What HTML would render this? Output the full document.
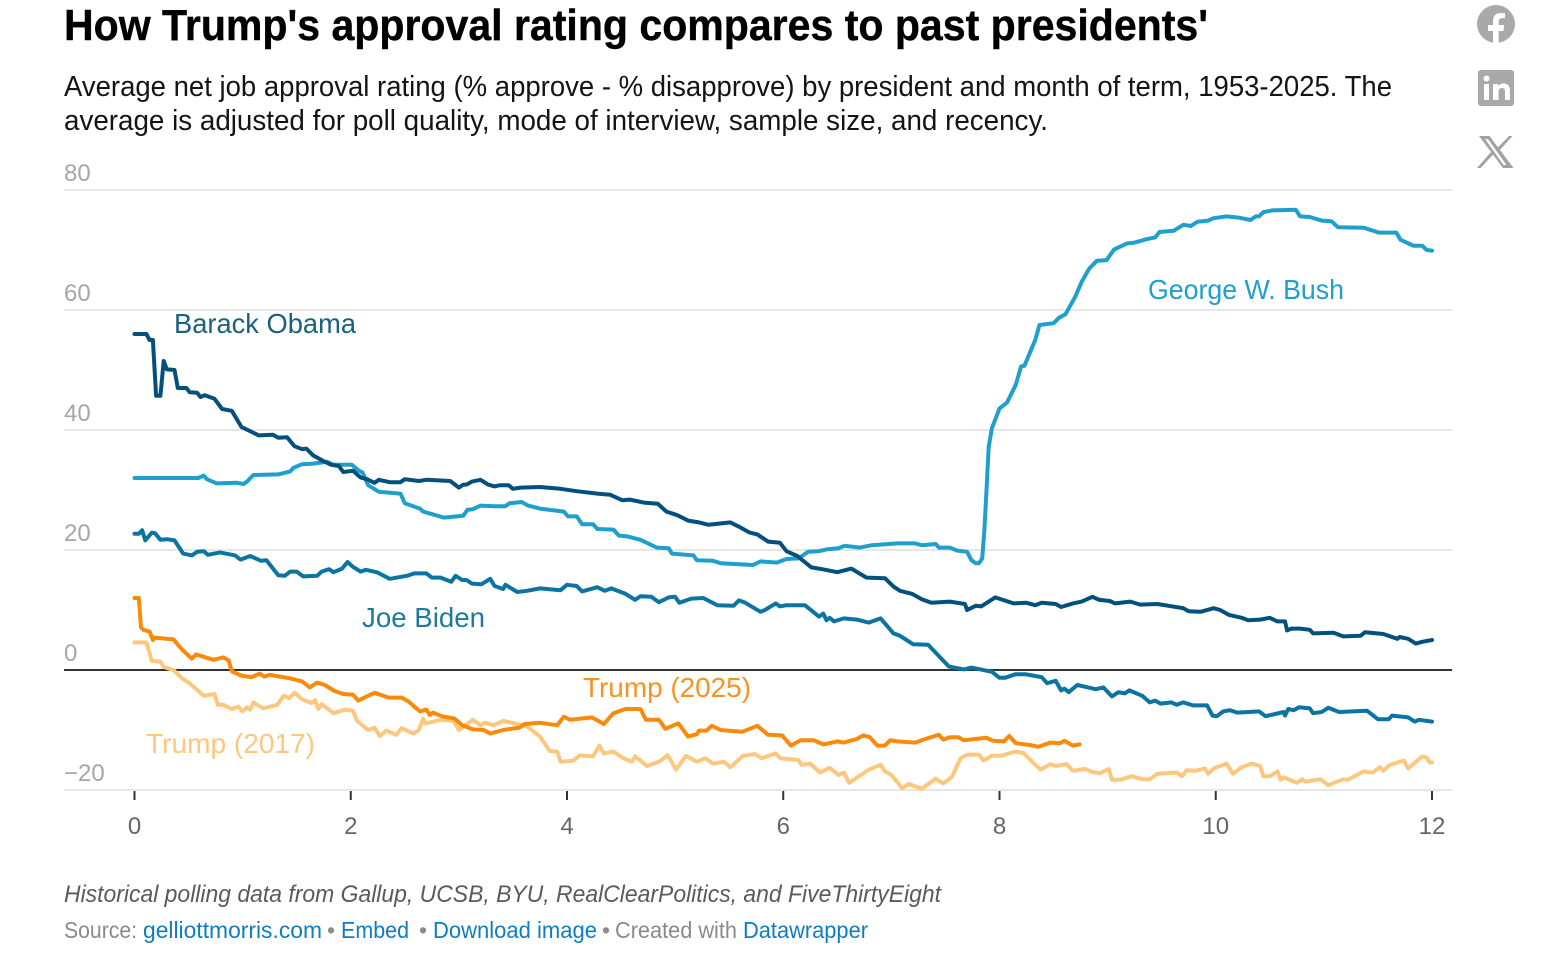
<!DOCTYPE html>
<html lang="en">
<head>
<meta charset="utf-8">
<title>How Trump's approval rating compares to past presidents'</title>
<style>
html,body{margin:0;padding:0;background:#fff;}
body{width:1560px;height:971px;overflow:hidden;}
svg{display:block;font-family:"Liberation Sans",Arial,sans-serif;}
a{cursor:pointer;}
</style>
</head>
<body>
<svg id="chart" xmlns="http://www.w3.org/2000/svg" width="1560" height="971" viewBox="0 0 1560 971">
  <text x="64" y="40" font-size="44" font-weight="700" fill="#000" stroke="#000" stroke-width="0.4" textLength="1144" lengthAdjust="spacingAndGlyphs">How Trump's approval rating compares to past presidents'</text>
  <text x="64" y="96" font-size="29" fill="#141414" textLength="1328" lengthAdjust="spacingAndGlyphs">Average net job approval rating (% approve - % disapprove) by president and month of term, 1953-2025. The</text>
  <text x="64" y="130" font-size="29" fill="#141414" textLength="984" lengthAdjust="spacingAndGlyphs">average is adjusted for poll quality, mode of interview, sample size, and recency.</text>

  <g id="grid"></g>
  <g id="xaxis"></g>
  <g id="lines" fill="none" stroke-width="4" stroke-linejoin="round" stroke-linecap="round"></g>

  <text x="174" y="333" font-size="28" fill="#19617f" textLength="182" lengthAdjust="spacingAndGlyphs">Barack Obama</text>
  <text x="1148" y="299" font-size="28" fill="#1f9fcb" textLength="196" lengthAdjust="spacingAndGlyphs">George W. Bush</text>
  <text x="362" y="627" font-size="28" fill="#1f7a9e" textLength="123" lengthAdjust="spacingAndGlyphs">Joe Biden</text>
  <text x="583" y="697" font-size="28" fill="#f79225" textLength="168" lengthAdjust="spacingAndGlyphs">Trump (2025)</text>
  <text x="146" y="753" font-size="28" fill="#fdc77d" textLength="169" lengthAdjust="spacingAndGlyphs">Trump (2017)</text>

  <text x="64" y="902" font-size="24" font-style="italic" fill="#5a5a5a" textLength="877" lengthAdjust="spacingAndGlyphs">Historical polling data from Gallup, UCSB, BYU, RealClearPolitics, and FiveThirtyEight</text>
  <g font-size="23" fill="#8a8a8a">
    <text x="64" y="938" textLength="73" lengthAdjust="spacingAndGlyphs">Source:</text>
    <text x="143" y="938" fill="#0f7dc2" textLength="179" lengthAdjust="spacingAndGlyphs">gelliottmorris.com</text>
    <text x="327" y="938">•</text>
    <text x="341" y="938" fill="#0f7dc2" textLength="68" lengthAdjust="spacingAndGlyphs">Embed</text>
    <text x="419" y="938">•</text>
    <text x="433" y="938" fill="#0f7dc2" textLength="164" lengthAdjust="spacingAndGlyphs">Download image</text>
    <text x="602" y="938">•</text>
    <text x="615" y="938" textLength="122" lengthAdjust="spacingAndGlyphs">Created with</text>
    <text x="743" y="938" fill="#0f7dc2" textLength="125" lengthAdjust="spacingAndGlyphs">Datawrapper</text>
  </g>

  <g>
    <circle cx="1496" cy="24" r="19" fill="#a9a9a9"/>
    <path d="M1493 43V31h-5v-6h5v-4c0-5 3-8 8-8 2 0 4 .3 4 .3v5h-3c-2.500 0-3.300 1.500-3.300 3.200V25h5.600l-.9 6h-4.700v12z" fill="#fff"/>
  </g>
  <g>
    <rect x="1478" y="70" width="36" height="36" rx="3" fill="#a9a9a9"/>
    <rect x="1484" y="84" width="5" height="16" fill="#fff"/>
    <circle cx="1486.500" cy="78.500" r="3" fill="#fff"/>
    <path d="M1493 84h5v2.300c1-1.700 3-2.800 5.500-2.800 4.500 0 6.500 2.700 6.500 7.500v9h-5v-8c0-2.500-.8-4-3-4-2.300 0-3.500 1.600-3.500 4v8h-5.500z" fill="#fff"/>
  </g>
  <g>
    <path d="M1479 136h10.500l24 32h-10.500zM1485 139l18.500 26h3l-18.500-26z" fill="#a2a2a2" fill-rule="evenodd"/>
    <path d="M1509 136h3.500l-14 15.500-2-2.600zM1480.500 168h-3.500l14.500-16.500 2 2.600z" fill="#a2a2a2"/>
  </g>
</svg>
<script>
const yTicks = [80, 60, 40, 20, 0, -20];
const xTicks = [0, 2, 4, 6, 8, 10, 12];

const bushMonths = [0,0.59,0.64,0.67,0.76,0.95,1.01,1.04,1.10,1.33,1.44,1.47,1.55,1.65,1.78,1.84,2.01,2.07,2.11,2.16,2.26,2.46,2.50,2.64,2.67,2.86,3.04,3.08,3.13,3.20,3.32,3.43,3.47,3.58,3.64,3.75,3.97,4.01,4.09,4.14,4.24,4.28,4.43,4.48,4.55,4.68,4.83,4.94,4.97,5.17,5.20,5.35,5.42,5.72,5.79,5.94,6.03,6.14,6.23,6.33,6.40,6.51,6.57,6.71,6.82,7.05,7.22,7.28,7.41,7.44,7.54,7.61,7.70,7.74,7.78,7.81,7.84,7.86,7.88,7.90,7.93,8.00,8.07,8.15,8.20,8.23,8.33,8.37,8.50,8.55,8.61,8.70,8.76,8.83,8.90,8.99,9.06,9.18,9.24,9.36,9.44,9.48,9.61,9.70,9.77,9.83,9.93,9.98,10.10,10.21,10.32,10.37,10.40,10.44,10.52,10.74,10.78,10.87,10.98,11.07,11.13,11.37,11.51,11.67,11.71,11.83,11.91,11.95,12];
const bushValues = [32,32,32.4,31.8,31.1,31.2,31,31.4,32.5,32.6,33.1,33.7,34.3,34.4,34.7,34.2,34.2,33.3,32.9,30.8,29.7,29.4,27.8,26.9,26.4,25.4,25.7,26.7,26.8,27.4,27.3,27.3,27.8,28,27.4,26.9,26.4,25.6,25.6,24.3,24.3,23.5,23.4,22.4,22.3,21.7,20.4,20.3,19.4,19.1,18.3,18.2,17.8,17.5,18.1,17.9,18.5,18.6,19.7,19.8,20.1,20.3,20.7,20.4,20.8,21.1,21.1,20.8,21,20.4,20.4,19.9,19.7,18.3,17.8,17.8,18.6,23.3,30,37.2,40.3,43.6,44.6,47.5,50.6,50.7,55,57.5,57.8,58.7,59.3,62.2,64.7,66.9,68.2,68.3,70.1,71.1,71.2,71.8,72.1,73,73.2,74.2,74,74.7,74.9,75.3,75.6,75.4,75,75.6,75.6,76.3,76.6,76.7,75.6,75.5,74.9,74.8,73.8,73.7,72.9,72.9,71.7,70.7,70.7,70,69.9];

const bidenMonths = [0,0.04,0.07,0.10,0.16,0.19,0.24,0.30,0.37,0.45,0.53,0.58,0.64,0.68,0.79,0.93,0.98,1.07,1.17,1.22,1.33,1.39,1.44,1.50,1.56,1.69,1.73,1.80,1.84,1.92,1.97,2.02,2.09,2.14,2.24,2.36,2.52,2.59,2.70,2.75,2.83,2.93,2.97,3.03,3.07,3.12,3.21,3.29,3.33,3.41,3.43,3.54,3.63,3.75,3.94,4.00,4.09,4.14,4.28,4.35,4.41,4.54,4.63,4.68,4.78,4.85,4.94,5.00,5.04,5.15,5.26,5.39,5.54,5.59,5.65,5.79,5.83,5.93,5.97,6.03,6.20,6.33,6.37,6.40,6.43,6.47,6.56,6.68,6.79,6.90,7.02,7.08,7.20,7.34,7.53,7.67,7.74,7.93,8.00,8.05,8.15,8.24,8.33,8.39,8.44,8.52,8.57,8.60,8.64,8.72,8.82,8.89,8.96,9.04,9.10,9.16,9.20,9.32,9.39,9.44,9.49,9.59,9.64,9.70,9.79,9.92,9.97,10.01,10.07,10.13,10.20,10.40,10.46,10.63,10.64,10.67,10.72,10.77,10.87,10.90,10.98,11.04,11.14,11.40,11.50,11.60,11.63,11.78,11.84,11.88,12];
const bidenValues = [22.7,22.7,23.3,21.6,22.9,22.8,21.7,21.8,21.6,19.4,19.1,19.7,19.8,19.2,19.6,19.1,18.4,19,18.2,18.3,15.8,15.7,16.4,16.4,15.6,15.7,16.4,16.8,16.3,16.9,18,17.2,16.4,16.7,16.3,15.2,15.7,16.1,16.1,15.4,15.4,14.7,15.7,15,15,14.4,14.3,15.2,14,13.5,14.2,13,13.2,13.6,13.3,14.2,14,13.1,13.8,13.2,13.6,12.7,11.7,12.3,12.2,11.3,12.1,12.2,11.2,11.9,12,10.8,10.7,11.6,11.2,9.7,10,11.1,10.6,10.8,10.8,8.9,9.4,8.3,8.7,8.1,8.6,8.4,7.9,8.6,6.1,5.7,4.3,4.2,0.6,0.1,0.4,-0.3,-1.3,-1.3,-0.7,-0.7,-1,-1.2,-2.2,-1.8,-3.4,-3.1,-3.7,-2.5,-2.9,-3.2,-2.9,-4.4,-3.7,-3.9,-3.4,-4.3,-5.4,-5.1,-5.6,-5.4,-5.8,-5.4,-5.9,-5.9,-7.6,-7.7,-6.9,-6.7,-7.1,-6.9,-7.7,-7,-7.6,-6.5,-6.7,-6.2,-6.4,-7.2,-7,-6.3,-7,-6.8,-8.2,-8.2,-7.6,-7.9,-8.6,-8.3,-8.6];

const obamaMonths = [0,0.11,0.14,0.17,0.20,0.24,0.27,0.30,0.37,0.40,0.48,0.51,0.58,0.61,0.65,0.74,0.81,0.90,0.95,0.99,1.07,1.15,1.28,1.33,1.41,1.48,1.55,1.59,1.65,1.75,1.82,1.89,1.93,2.02,2.09,2.15,2.22,2.26,2.36,2.46,2.50,2.63,2.70,2.92,3.00,3.04,3.07,3.12,3.20,3.27,3.33,3.38,3.46,3.50,3.57,3.75,3.94,4.09,4.28,4.40,4.51,4.58,4.71,4.84,4.92,5.02,5.12,5.22,5.31,5.51,5.60,5.69,5.76,5.86,5.97,6.03,6.13,6.26,6.36,6.50,6.63,6.77,6.94,7.02,7.08,7.19,7.28,7.37,7.54,7.68,7.70,7.78,7.83,7.96,8.13,8.25,8.33,8.39,8.52,8.57,8.68,8.76,8.86,8.92,9.02,9.07,9.21,9.30,9.46,9.70,9.75,9.86,9.98,10.04,10.12,10.24,10.30,10.41,10.50,10.57,10.64,10.66,10.70,10.78,10.87,10.90,11.09,11.18,11.34,11.38,11.55,11.68,11.70,11.78,11.85,11.91,12];
const obamaValues = [56,56,55,55,45.7,45.7,51.5,50.1,50,47,47,46.3,46.2,45.5,45.8,45.2,43.5,43.2,41.7,40.5,39.8,39.1,39.2,38.7,38.8,37.3,36.8,36.9,35.8,34.8,34.2,34,33,33.2,32.1,31.8,31.2,31.7,31.3,31.3,31.8,31.5,31.7,31.5,30.4,30.9,30.9,31.4,31.7,30.9,30.6,30.8,30.8,30.2,30.4,30.5,30.2,29.8,29.4,29.2,28.3,28.4,27.9,27.7,26.4,25.8,24.9,24.6,24.2,24.6,23.8,22.9,22.6,21.4,21.2,19.8,19,17.1,16.8,16.3,16.9,15.4,15.3,13.9,13.2,12.7,11.8,11.2,11.4,11,10,10.7,10.6,12.1,11.1,11.2,10.8,11.2,11,10.5,11.1,11.4,12.2,11.7,11.5,11.1,11.4,10.9,11,10.3,9.8,9.7,10.3,10,9.2,8.7,8.3,8.4,8.7,8.1,8.1,6.6,6.9,6.9,6.7,6.1,6.2,5.6,5.7,6.3,6,5.2,5.5,5.2,4.4,4.7,5];

const trump2017Months = [0,0.11,0.16,0.24,0.27,0.36,0.44,0.51,0.64,0.74,0.77,0.82,0.90,0.96,1.00,1.04,1.07,1.10,1.19,1.32,1.38,1.43,1.48,1.55,1.64,1.67,1.70,1.73,1.84,1.95,2.02,2.06,2.16,2.22,2.27,2.33,2.42,2.47,2.58,2.63,2.67,2.69,2.83,2.95,3.00,3.13,3.20,3.24,3.32,3.41,3.52,3.63,3.75,3.84,3.91,3.94,4.06,4.12,4.24,4.30,4.34,4.43,4.52,4.60,4.63,4.74,4.85,4.93,5.01,5.10,5.20,5.28,5.35,5.45,5.51,5.63,5.74,5.80,5.93,5.97,6.14,6.17,6.25,6.34,6.43,6.51,6.56,6.61,6.66,6.79,6.90,6.94,7.00,7.10,7.16,7.28,7.41,7.48,7.56,7.64,7.70,7.81,7.85,7.93,8.01,8.15,8.22,8.32,8.38,8.47,8.52,8.62,8.68,8.79,8.86,8.93,9.01,9.04,9.12,9.22,9.32,9.39,9.46,9.64,9.69,9.73,9.81,9.90,9.93,9.98,10.10,10.16,10.24,10.33,10.41,10.44,10.50,10.57,10.60,10.63,10.75,10.80,10.83,10.97,11.04,11.18,11.22,11.37,11.45,11.52,11.55,11.61,11.74,11.78,11.91,11.95,11.98,12];
const trump2017Values = [4.6,4.6,1.5,1.4,0.5,0,-1.4,-2.2,-4.3,-4,-5.8,-5.8,-6.5,-6.1,-6.9,-6.2,-6.6,-5.4,-6.4,-5.8,-4.3,-4.7,-3.8,-4.9,-5.5,-5,-6.5,-5.7,-7.2,-6.6,-6.8,-8.5,-10,-9.6,-11,-10.1,-10.8,-9.7,-10.6,-10,-8.1,-8.9,-8.3,-8.5,-10,-8.3,-9.2,-8.8,-9.2,-8.5,-8.9,-9.4,-11.1,-13.5,-13.6,-15.3,-15.1,-14.2,-14.4,-12.6,-13.9,-13.6,-14.7,-15.3,-14.4,-16,-15.3,-14.2,-16.6,-14.3,-15.3,-14.7,-15.6,-15.3,-16.2,-14.3,-14,-14.7,-13.9,-14.7,-15,-15.8,-15.6,-17.1,-16.3,-17.5,-17.1,-18.8,-18.2,-16.6,-15.8,-16.9,-17.5,-19.7,-19,-19.8,-18.1,-18.9,-17.8,-14.7,-14.1,-14.1,-15.1,-14.3,-14.3,-13.6,-13.8,-15.6,-16.6,-15.7,-16,-15.7,-16.8,-16.5,-17,-17.2,-16.5,-18.3,-18.3,-17.7,-18.2,-18.2,-17.3,-17.1,-17.7,-16.7,-16.8,-16.4,-17.3,-16.4,-15.6,-17.3,-16.2,-15.6,-16,-17.7,-17.7,-16.9,-18.3,-17.9,-18.8,-18.2,-18.6,-18.2,-19.2,-18.2,-18.3,-16.9,-17.1,-16.2,-16.8,-15.8,-15.1,-16.4,-14.4,-14.6,-15.4,-15.4];

const trump2025Months = [0,0.04,0.06,0.08,0.14,0.17,0.19,0.36,0.44,0.53,0.57,0.64,0.73,0.82,0.87,0.90,0.98,1.08,1.16,1.20,1.25,1.44,1.55,1.62,1.69,1.76,1.85,1.93,2.02,2.07,2.22,2.35,2.47,2.53,2.64,2.70,2.73,2.76,2.84,2.96,3.03,3.13,3.23,3.29,3.41,3.56,3.61,3.75,3.91,3.97,4.03,4.23,4.34,4.43,4.54,4.68,4.73,4.85,4.91,5.03,5.12,5.20,5.22,5.29,5.34,5.42,5.62,5.76,5.86,5.99,6.07,6.16,6.28,6.37,6.50,6.56,6.68,6.74,6.80,6.87,6.94,6.99,7.05,7.22,7.33,7.44,7.48,7.54,7.62,7.67,7.88,7.94,8.04,8.09,8.15,8.28,8.36,8.47,8.56,8.60,8.68,8.74];
const trump2025Values = [12,12,7.1,6.7,6.4,5,5.4,5.1,3.4,1.9,2.6,2.2,1.7,2.1,1.6,-0.2,-0.9,-1.2,-0.6,-1.1,-0.8,-1.4,-1.9,-2.9,-2.1,-2.5,-3.5,-4,-4.1,-5.1,-3.8,-4.6,-4.6,-5.2,-6.9,-6.6,-7.5,-7.1,-7.7,-8.1,-9.2,-9.9,-10,-10.6,-10,-9.6,-9,-8.8,-9.2,-7.8,-8.3,-7.9,-9,-7.2,-6.5,-6.5,-8.3,-8.3,-9.8,-8.9,-11.1,-10.7,-10.1,-10.1,-9.3,-10,-10.3,-9.3,-10.8,-10.9,-12.6,-11.7,-11.7,-12.4,-11.9,-12.1,-11.5,-10.9,-11.2,-12.6,-12.6,-11.7,-11.9,-12.1,-11.4,-10.8,-11.6,-11.2,-11.2,-11.7,-11.3,-11.8,-11.9,-11,-12.2,-12.5,-12.8,-12.1,-12.2,-11.8,-12.6,-12.4];

const NS = 'http://www.w3.org/2000/svg';
const plotLeft = 64;
const plotRight = 1452;
function scaleX(m) { return 134.5 + m * (1432 - 134.5) / 12; }
function scaleY(v) { return 670 - v * 6; }

const gridG = document.getElementById('grid');
yTicks.forEach(function (t) {
  const line = document.createElementNS(NS, 'line');
  
  
  line.setAttribute('x1', plotLeft);
  line.setAttribute('x2', plotRight);
  line.setAttribute('y1', scaleY(t));
  line.setAttribute('y2', scaleY(t));
  line.setAttribute('stroke', t === 0 ? '#333333' : '#e6e6e6');
  line.setAttribute('stroke-width', '2');
  gridG.appendChild(line);
  const lab = document.createElementNS(NS, 'text');
  
  
  lab.setAttribute('x', plotLeft);
  lab.setAttribute('y', scaleY(t) - 9);
  lab.setAttribute('font-size', '24');
  lab.setAttribute('fill', '#a6a6a6');
  lab.textContent = t < 0 ? '\u2212' + Math.abs(t) : String(t);
  gridG.appendChild(lab);
});

const xG = document.getElementById('xaxis');
xTicks.forEach(function (t) {
  const tick = document.createElementNS(NS, 'line');
  
  
  tick.setAttribute('x1', scaleX(t));
  tick.setAttribute('x2', scaleX(t));
  tick.setAttribute('y1', 791);
  tick.setAttribute('y2', 800);
  tick.setAttribute('stroke', '#333333');
  tick.setAttribute('stroke-width', '2');
  xG.appendChild(tick);
  const lab = document.createElementNS(NS, 'text');
  
  
  lab.setAttribute('x', scaleX(t));
  lab.setAttribute('y', 834);
  lab.setAttribute('font-size', '24');
  lab.setAttribute('fill', '#666666');
  lab.setAttribute('text-anchor', 'middle');
  lab.textContent = String(t);
  xG.appendChild(lab);
});

function linePath(months, values) {
  let d = '';
  const n = Math.min(months.length, values.length);
  for (let i = 0; i < n; i++) {
    d += (i ? 'L' : 'M') + scaleX(months[i]).toFixed(1) + ' ' + scaleY(values[i]).toFixed(1);
  }
  return d;
}

const linesG = document.getElementById('lines');
const bushLine = document.createElementNS(NS, 'path');


bushLine.setAttribute('stroke', '#1f9fcb');
bushLine.setAttribute('d', linePath(bushMonths, bushValues));
linesG.appendChild(bushLine);

const bidenLine = document.createElementNS(NS, 'path');


bidenLine.setAttribute('stroke', '#0b74a1');
bidenLine.setAttribute('d', linePath(bidenMonths, bidenValues));
linesG.appendChild(bidenLine);

const obamaLine = document.createElementNS(NS, 'path');


obamaLine.setAttribute('stroke', '#04507c');
obamaLine.setAttribute('d', linePath(obamaMonths, obamaValues));
linesG.appendChild(obamaLine);

const trump2017Line = document.createElementNS(NS, 'path');


trump2017Line.setAttribute('stroke', '#fdc77d');
trump2017Line.setAttribute('d', linePath(trump2017Months, trump2017Values));
linesG.appendChild(trump2017Line);

const trump2025Line = document.createElementNS(NS, 'path');


trump2025Line.setAttribute('stroke', '#f98a0b');
trump2025Line.setAttribute('d', linePath(trump2025Months, trump2025Values));
linesG.appendChild(trump2025Line);
</script>
</body>
</html>
